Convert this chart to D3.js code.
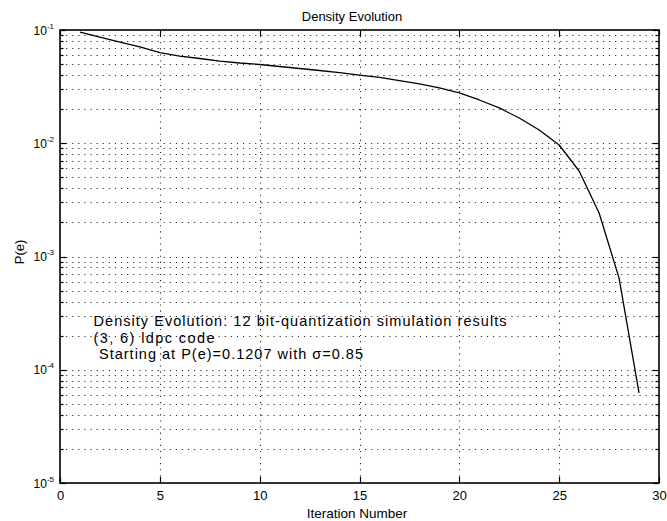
<!DOCTYPE html>
<html>
<head>
<meta charset="utf-8">
<script src="https://cdn.jsdelivr.net/npm/d3@7"></script>
<style>
  html, body { margin: 0; padding: 0; background: #fff; }
  svg { display: block; font-family: "Liberation Sans", Arial, Helvetica, sans-serif; }
</style>
</head>
<body>
<svg id="chart" width="667" height="521"></svg>
<script>
// Density evolution curve: error probability after each decoding iteration
const iterations = [1, 2, 3, 4, 5, 6, 7, 8, 9, 10, 11, 12, 13, 14, 15,
                    16, 17, 18, 19, 20, 21, 22, 23, 24, 25, 26, 27, 28, 29];
const errorProb = [0.0960, 0.0867, 0.0783, 0.0708, 0.0630, 0.0589, 0.0560, 0.0532, 0.0511, 0.0496,
                   0.0476, 0.0457, 0.0439, 0.0421, 0.0400, 0.0381, 0.0358, 0.0334, 0.0308, 0.0278,
                   0.0241, 0.0205, 0.0167, 0.0131, 0.00965, 0.00569, 0.00242, 0.000645, 0.0000624];

const xTicks = [0, 5, 10, 15, 20, 25, 30];
const yDecades = [1e-1, 1e-2, 1e-3, 1e-4, 1e-5];
const yExponents = ["-1", "-2", "-3", "-4", "-5"];

const titleText = "Density Evolution";
const xLabel = "Iteration Number";
const yLabel = "P(e)";
const noteLines = [
  "Density Evolution: 12 bit-quantization simulation results",
  "(3, 6) ldpc code",
  "Starting at P(e)=0.1207 with \u03c3=0.85"
];

const svg = d3.select("#chart");
const plotLeft = 60, plotRight = 659, plotTop = 30, plotBottom = 483;

const x = d3.scaleLinear().domain([0, 30]).range([plotLeft, plotRight]);
const y = d3.scaleLog().domain([1e-5, 1e-1]).range([plotBottom, plotTop]);

// every log gridline value (mantissa 1..9 in each decade)
const logLines = [];
for (let e = -5; e < -1; e++) {
  for (let m = 1; m <= 9; m++) logLines.push(m * Math.pow(10, e));
}
const innerLog = logLines.filter(v => v > 1.0001e-5);

const gridStyle = g => g.attr("stroke", "#222").attr("stroke-width", 1.1)
  .attr("stroke-dasharray", "1.1,5").attr("fill", "none");

// horizontal dotted grid
svg.append("g").call(gridStyle)
  .selectAll("line").data(innerLog).join("line")
  .attr("x1", plotLeft).attr("x2", plotRight)
  .attr("y1", d => Math.round(y(d)) + 0.5).attr("y2", d => Math.round(y(d)) + 0.5);

// vertical dotted grid
svg.append("g").call(gridStyle)
  .selectAll("line").data(xTicks.slice(1, -1)).join("line")
  .attr("y1", plotTop).attr("y2", plotBottom)
  .attr("x1", d => Math.round(x(d)) + 0.5).attr("x2", d => Math.round(x(d)) + 0.5);

// tick marks (pointing inward on all four sides)
const ticks = svg.append("g").attr("stroke", "#000").attr("stroke-width", 1.2);
xTicks.forEach(t => {
  const px = Math.round(x(t)) + 0.5;
  ticks.append("line").attr("x1", px).attr("x2", px).attr("y1", plotBottom).attr("y2", plotBottom - 6);
  ticks.append("line").attr("x1", px).attr("x2", px).attr("y1", plotTop).attr("y2", plotTop + 6);
});
logLines.concat([1e-1]).forEach(v => {
  const py = Math.round(y(v)) + 0.5;
  const len = yDecades.some(d => Math.abs(d - v) / d < 1e-6) ? 6 : 3.5;
  ticks.append("line").attr("x1", plotLeft).attr("x2", plotLeft + len).attr("y1", py).attr("y2", py);
  ticks.append("line").attr("x1", plotRight).attr("x2", plotRight - len).attr("y1", py).attr("y2", py);
});

// axes frame
svg.append("rect")
  .attr("x", plotLeft).attr("y", plotTop)
  .attr("width", plotRight - plotLeft).attr("height", plotBottom - plotTop)
  .attr("fill", "none").attr("stroke", "#000").attr("stroke-width", 1.6);

// x tick labels through d3 axis (tick lines hidden, drawn above)
const xAxis = svg.append("g")
  .attr("transform", `translate(0,${plotBottom})`)
  .call(d3.axisBottom(x).tickValues(xTicks).tickSize(0).tickPadding(0).tickFormat(d3.format("d")));
xAxis.select(".domain").remove();
xAxis.selectAll("text")
  .attr("y", 17).attr("dy", null)
  .attr("font-size", 13).attr("font-family", "Liberation Sans, Arial, sans-serif")
  .attr("fill", "#000");

// y tick labels: powers of ten with superscript exponent
const yl = svg.append("g").attr("font-size", 12).attr("fill", "#000");
yDecades.forEach((v, i) => {
  const t = yl.append("text")
    .attr("x", 54).attr("y", y(v) + 4.5)
    .attr("text-anchor", "end");
  t.append("tspan").text("10");
  t.append("tspan").attr("font-size", 8).attr("dy", -6).text(yExponents[i]);
});

// curve
svg.append("path")
  .datum(iterations.map((it, i) => [it, errorProb[i]]))
  .attr("fill", "none").attr("stroke", "#000").attr("stroke-width", 1.3)
  .attr("stroke-linejoin", "round")
  .attr("d", d3.line().x(d => x(d[0])).y(d => y(d[1])));

// title and axis labels
svg.append("text").attr("x", 352).attr("y", 21).attr("text-anchor", "middle")
  .attr("font-size", 13).text(titleText);
svg.append("text").attr("x", 357).attr("y", 518).attr("text-anchor", "middle")
  .attr("font-size", 13.5).text(xLabel);
svg.append("text").attr("transform", "translate(24,252) rotate(-90)")
  .attr("text-anchor", "middle").attr("font-size", 13).text(yLabel);

// annotation block: wide, compact lines stretched to their printed width
const noteX = [93.5, 93.5, 99];
const noteY = [326, 342.5, 359];
const noteWidth = [413, 121, 264];
svg.append("g").attr("font-size", 14.5).attr("fill", "#000")
  .selectAll("text").data(noteLines).join("text")
  .attr("x", (d, i) => noteX[i]).attr("y", (d, i) => noteY[i])
  .attr("textLength", (d, i) => noteWidth[i])
  .attr("lengthAdjust", "spacing")
  .text(d => d);
</script>
</body>
</html>
